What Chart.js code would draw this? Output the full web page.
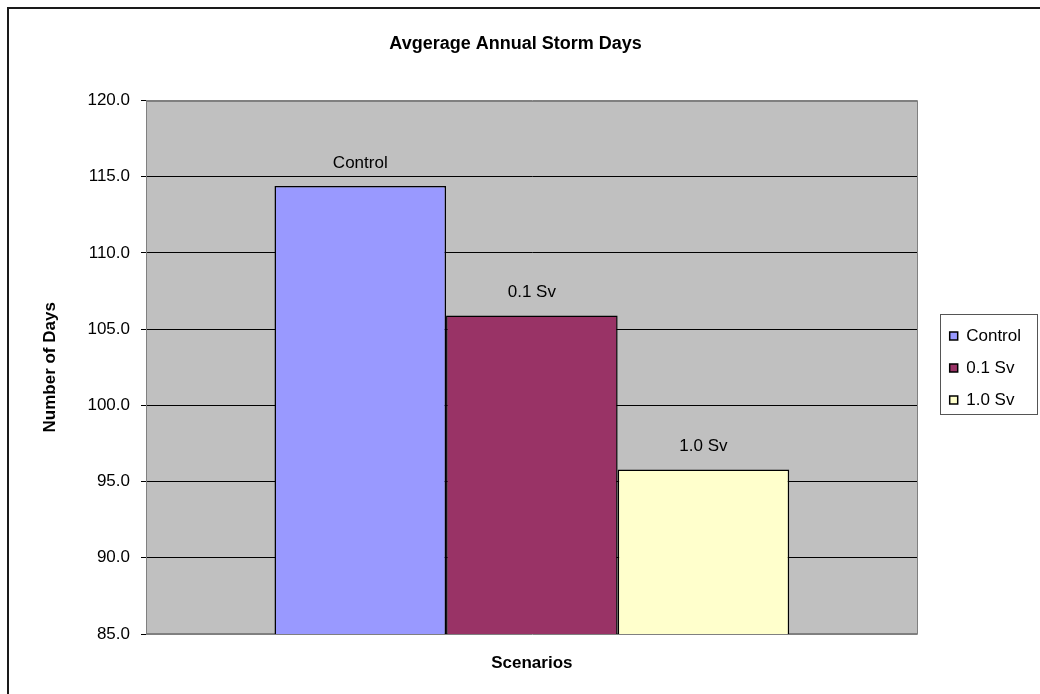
<!DOCTYPE html>
<html>
<head>
<meta charset="utf-8">
<script src="https://cdn.jsdelivr.net/npm/chart.js@4/dist/chart.umd.min.js"></script>
<style>
  html, body { margin: 0; padding: 0; background: #ffffff; }
  #wrap { width: 1040px; height: 694px; position: relative; }
</style>
</head>
<body>
<div id="wrap"><canvas id="c"></canvas></div>
<script>
// ---- data ----
const categories = ['Control', '0.1 Sv', '1.0 Sv'];
const stormDays = [114.4, 105.9, 95.8];
const seriesColors = ['#9999FF', '#993366', '#FFFFCC'];
const yMin = 85, yMax = 120, yStep = 5;
const chartTitle = 'Avgerage Annual Storm Days';
const xTitle = 'Scenarios';
const yTitle = 'Number of Days';

const FONT = "'Liberation Sans', Arial, sans-serif";

const datasets = categories.map((name, i) => ({
  label: name,
  data: [stormDays[i]],
  backgroundColor: seriesColors[i],
  borderColor: '#000000',
  borderWidth: 1.5,
  borderSkipped: false,
  categoryPercentage: 0.667,
  barPercentage: 1.0
}));

const backgroundPlugin = {
  id: 'bgFrame',
  beforeDraw(chart) {
    const {ctx, chartArea: a, width, height} = chart;
    ctx.save();
    ctx.fillStyle = '#ffffff';
    ctx.fillRect(0, 0, width, height);
    // outer frame (top & left visible)
    ctx.fillStyle = '#1a1a1a';
    ctx.fillRect(7, 7, width, 2);
    ctx.fillRect(7, 7, 2, height);
    // plot area
    ctx.fillStyle = '#C0C0C0';
    ctx.fillRect(a.left, a.top, a.right - a.left, a.bottom - a.top);
    ctx.restore();
  },
  beforeDatasetsDraw(chart) {
    const {ctx, chartArea: a} = chart;
    ctx.save();
    ctx.strokeStyle = '#808080';
    ctx.lineWidth = 1;
    ctx.strokeRect(Math.round(a.left) + 0.5, Math.round(a.top) + 0.5,
                   Math.round(a.right - a.left) - 1, Math.round(a.bottom - a.top) - 1);
    ctx.restore();
  }
};

const seriesLabelPlugin = {
  id: 'seriesLabels',
  afterDatasetsDraw(chart) {
    const {ctx} = chart;
    ctx.save();
    ctx.font = '17px ' + FONT;
    ctx.fillStyle = '#000000';
    ctx.textAlign = 'center';
    ctx.textBaseline = 'middle';
    chart.data.datasets.forEach((ds, i) => {
      const meta = chart.getDatasetMeta(i);
      const bar = meta.data[0];
      if (bar) ctx.fillText(ds.label, bar.x, bar.y - 23);
    });
    ctx.restore();
  }
};

const legendBoxPlugin = {
  id: 'legendBox',
  afterDraw(chart) {
    const lg = chart.legend;
    if (!lg || !lg.legendHitBoxes || !lg.legendHitBoxes.length) return;
    const hb = lg.legendHitBoxes;
    let l = Infinity, t = Infinity, r = -Infinity, b = -Infinity;
    hb.forEach(h => {
      l = Math.min(l, h.left); t = Math.min(t, h.top);
      r = Math.max(r, h.left + h.width); b = Math.max(b, h.top + h.height);
    });
    const {ctx} = chart;
    ctx.save();
    ctx.strokeStyle = '#555555';
    ctx.lineWidth = 1;
    const x0 = Math.round(l - 10) + 0.5, y0 = Math.round(t - 14) + 0.5;
    const x1 = Math.round(r + 16) + 0.5, y1 = Math.round(b + 5) + 0.5;
    ctx.strokeRect(x0, y0, x1 - x0, y1 - y0);
    ctx.restore();
  }
};

new Chart(document.getElementById('c'), {
  type: 'bar',
  data: { labels: [''], datasets },
  options: {
    responsive: true,
    maintainAspectRatio: false,
    animation: false,
    layout: { padding: { left: 0, right: 9, top: 0, bottom: 0 } },
    plugins: {
      title: {
        display: true,
        text: chartTitle,
        color: '#000000',
        font: { family: FONT, size: 18, weight: 'bold' },
        padding: { top: 33, bottom: 46 }
      },
      legend: {
        display: true,
        position: 'right',
        title: {
          display: true,
          text: '',
          font: { family: FONT, size: 10 },
          padding: { top: 15, bottom: 15 }
        },
        labels: {
          color: '#000000',
          font: { family: FONT, size: 17 },
          boxWidth: 8,
          boxHeight: 8,
          padding: 15
        }
      },
      tooltip: { enabled: false }
    },
    scales: {
      x: {
        type: 'category',
        grid: { display: false, drawTicks: false },
        border: { display: false },
        ticks: { display: false },
        title: {
          display: true,
          text: xTitle,
          color: '#000000',
          font: { family: FONT, size: 17, weight: 'bold' },
          padding: { top: 0, bottom: 20 }
        },
        afterFit(s) { s.height = 60; }
      },
      y: {
        min: yMin,
        max: yMax,
        ticks: {
          stepSize: yStep,
          color: '#000000',
          font: { family: FONT, size: 17 },
          padding: 11,
          callback: v => Number(v).toFixed(1)
        },
        grid: {
          color: c => (c.tick && (c.tick.value === yMin || c.tick.value === yMax)) ? '#808080' : '#000000',
          tickColor: '#000000',
          tickLength: 5,
          lineWidth: 1
        },
        border: { display: true, color: '#808080', width: 1 },
        title: {
          display: true,
          text: yTitle,
          color: '#000000',
          font: { family: FONT, size: 17, weight: 'bold' },
          padding: { top: 40, bottom: 0 }
        },
        afterFit(s) { s.width = 146; }
      },
      gap: {
        type: 'linear',
        position: 'right',
        display: true,
        grid: { display: false, drawTicks: false },
        border: { display: false },
        ticks: { display: false },
        afterFit(s) { s.width = 17; }
      }
    }
  },
  plugins: [backgroundPlugin, seriesLabelPlugin, legendBoxPlugin]
});
</script>
</body>
</html>
